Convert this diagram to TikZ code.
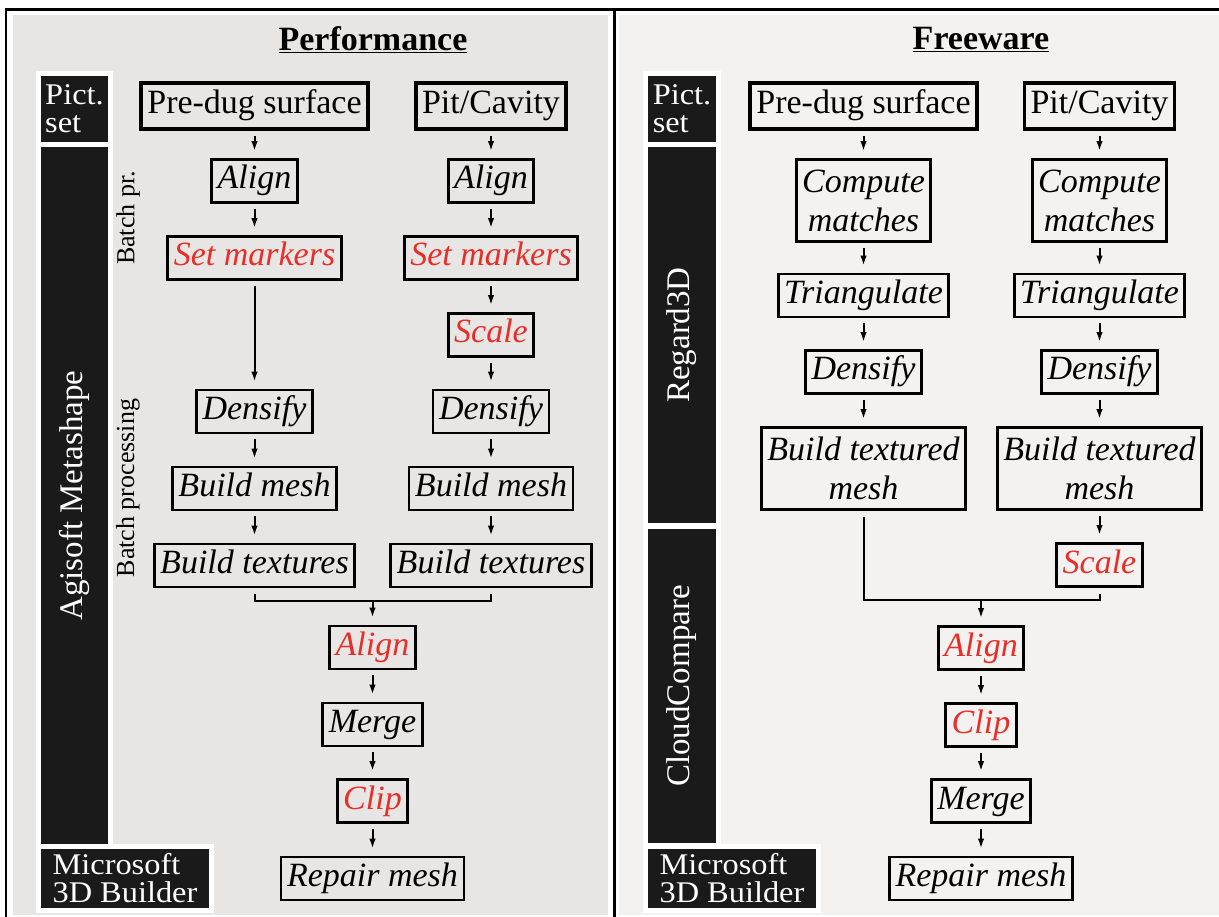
\documentclass[tikz,border=0pt]{standalone}
\usepackage{fontspec}
\setmainfont{Liberation Serif}
\newfontfamily\barfont[FakeStretch=1.08]{Liberation Serif}
\usetikzlibrary{arrows.meta,positioning}
\definecolor{perfgray}{RGB}{231,230,229}
\definecolor{freegray}{RGB}{243,242,241}
\definecolor{barblack}{RGB}{26,26,26}
\definecolor{fixred}{RGB}{232,46,40}
\tikzset{
	stepbox/.style={draw=black,line width=2.8pt,inner xsep=6pt,inner ysep=0pt,align=center,font=\fontsize{34}{39}\selectfont\itshape},
	onestep/.style={stepbox,text height=24pt,text depth=8pt,minimum height=43pt},
	twostep/.style={stepbox,minimum height=82pt},
	fixstep/.style={onestep,text=fixred},
	inputbox/.style={stepbox,line width=3.8pt,text height=24pt,text depth=8pt,minimum height=46pt,font=\fontsize{34}{39}\selectfont},
	toolbar/.style={fill=barblack,preaction={draw=white,line width=10pt},text=white,inner sep=0pt,font=\fontsize{33}{33}\selectfont},
	toolbox/.style={toolbar,align=left,font=\barfont\fontsize{30}{28}\selectfont},
	batchlabel/.style={rotate=90,font=\fontsize{26}{26}\selectfont},
	paneltitle/.style={font=\fontsize{34}{34}\selectfont\bfseries},
	flowline/.style={line width=2pt},
	flowarrow/.style={flowline,-{Latex[length=10pt,width=6.5pt]},shorten <=5pt,shorten >=7pt}
}
\begin{document}
\begin{tikzpicture}[x=1pt,y=-1pt]
		\useasboundingbox (0,0) rectangle (1219,917);
		\fill[white] (0,0) rectangle (1219,917);
		\draw[line width=2.5pt] (6,9.5) rectangle (1240,940);
		\fill[perfgray] (13,15) rectangle (608,915);
		\fill[freegray] (619,15) rectangle (1230,915);
		\draw[line width=3pt] (614,9) -- (614,917);
		
		% Performance
		\node[paneltitle] (perf) at (373,40) {\underline{Performance}};
		\node[toolbox,minimum width=67pt,minimum height=66pt] (pictL) at (74.5,109) {Pict.\\set};
		\node[toolbar,rotate=90,minimum width=697pt,minimum height=67pt] (agiL) at (74.5,495.5) {Agisoft Metashape};
		\node[toolbox,minimum width=168pt,minimum height=59pt] (msL) at (125,878.5) {Microsoft\\3D Builder};
		\node[batchlabel] (bpr) at (128,218) {Batch pr.};
		\node[batchlabel] (bproc) at (128,488) {Batch processing};
		
		\node[inputbox] (surfL) at (254.5,106) {Pre-dug surface};
		\node[inputbox] (pitL) at (491,106) {Pit/Cavity};
		\node[onestep] (alignLa) at (254.5,181) {Align};
		\node[onestep] (alignLb) at (491,181) {Align};
		\node[fixstep] (markLa) at (254.5,258) {Set markers};
		\node[fixstep] (markLb) at (491,258) {Set markers};
		\node[fixstep] (scaleLb) at (491,335) {Scale};
		\node[onestep] (denseLa) at (254.5,411.5) {Densify};
		\node[onestep] (denseLb) at (491,411.5) {Densify};
		\node[onestep] (meshLa) at (254.5,488.5) {Build mesh};
		\node[onestep] (meshLb) at (491,488.5) {Build mesh};
		\node[onestep] (texLa) at (254.5,565.5) {Build textures};
		\node[onestep] (texLb) at (491,565.5) {Build textures};
		\coordinate (joinL) at (372.5,601);
		\node[fixstep] (alignL) at (372.5,647.5) {Align};
		\node[onestep] (mergeL) at (372.5,724.5) {Merge};
		\node[fixstep] (clipL) at (372.5,801) {Clip};
		\node[onestep] (repairL) at (372.5,878.5) {Repair mesh};
		
		\draw[flowarrow] (surfL) -- (alignLa);
		\draw[flowarrow] (alignLa) -- (markLa);
		\draw[flowarrow] (markLa) -- (denseLa);
		\draw[flowarrow] (denseLa) -- (meshLa);
		\draw[flowarrow] (meshLa) -- (texLa);
		\draw[flowarrow] (pitL) -- (alignLb);
		\draw[flowarrow] (alignLb) -- (markLb);
		\draw[flowarrow] (markLb) -- (scaleLb);
		\draw[flowarrow] (scaleLb) -- (denseLb);
		\draw[flowarrow] (denseLb) -- (meshLb);
		\draw[flowarrow] (meshLb) -- (texLb);
		\draw[flowline] ([yshift=-6pt]texLa.south) |- (joinL) -| ([yshift=-6pt]texLb.south);
		\draw[flowarrow,shorten <=0pt] (joinL) -- (alignL);
		\draw[flowarrow] (alignL) -- (mergeL);
		\draw[flowarrow] (mergeL) -- (clipL);
		\draw[flowarrow] (clipL) -- (repairL);
		
		% Freeware
		\node[paneltitle] (free) at (981,40) {\underline{Freeware}};
		\node[toolbox,minimum width=68pt,minimum height=66pt] (pictR) at (682,109) {Pict.\\set};
		\node[toolbar,rotate=90,minimum width=376pt,minimum height=68pt] (rgR) at (682,335) {Regard3D};
		\node[toolbar,rotate=90,minimum width=314pt,minimum height=68pt] (ccR) at (682,686) {CloudCompare};
		\node[toolbox,minimum width=168pt,minimum height=59pt] (msR) at (732,878.5) {Microsoft\\3D Builder};
		
		\node[inputbox] (surfR) at (863.5,106) {Pre-dug surface};
		\node[inputbox] (pitR) at (1099.5,106) {Pit/Cavity};
		\node[twostep] (matchRa) at (863.5,200.5) {Compute\\matches};
		\node[twostep] (matchRb) at (1099.5,200.5) {Compute\\matches};
		\node[onestep] (triRa) at (863.5,295.5) {Triangulate};
		\node[onestep] (triRb) at (1099.5,295.5) {Triangulate};
		\node[onestep] (denseRa) at (863.5,372) {Densify};
		\node[onestep] (denseRb) at (1099.5,372) {Densify};
		\node[twostep] (texRa) at (863.5,468.5) {Build textured\\mesh};
		\node[twostep] (texRb) at (1099.5,468.5) {Build textured\\mesh};
		\node[fixstep] (scaleRb) at (1099.5,565) {Scale};
		\coordinate (joinR) at (981,600);
		\node[fixstep] (alignR) at (981,648) {Align};
		\node[fixstep] (clipR) at (981,725) {Clip};
		\node[onestep] (mergeR) at (981,801) {Merge};
		\node[onestep] (repairR) at (981,878.5) {Repair mesh};
		
		\draw[flowarrow] (surfR) -- (matchRa);
		\draw[flowarrow] (matchRa) -- (triRa);
		\draw[flowarrow] (triRa) -- (denseRa);
		\draw[flowarrow] (denseRa) -- (texRa);
		\draw[flowarrow] (pitR) -- (matchRb);
		\draw[flowarrow] (matchRb) -- (triRb);
		\draw[flowarrow] (triRb) -- (denseRb);
		\draw[flowarrow] (denseRb) -- (texRb);
		\draw[flowarrow] (texRb) -- (scaleRb);
		\draw[flowline] ([yshift=-6pt]texRa.south) |- (joinR) -| ([yshift=-6pt]scaleRb.south);
		\draw[flowarrow,shorten <=0pt] (joinR) -- (alignR);
		\draw[flowarrow] (alignR) -- (clipR);
		\draw[flowarrow] (clipR) -- (mergeR);
		\draw[flowarrow] (mergeR) -- (repairR);
	\end{tikzpicture}
\end{document}
